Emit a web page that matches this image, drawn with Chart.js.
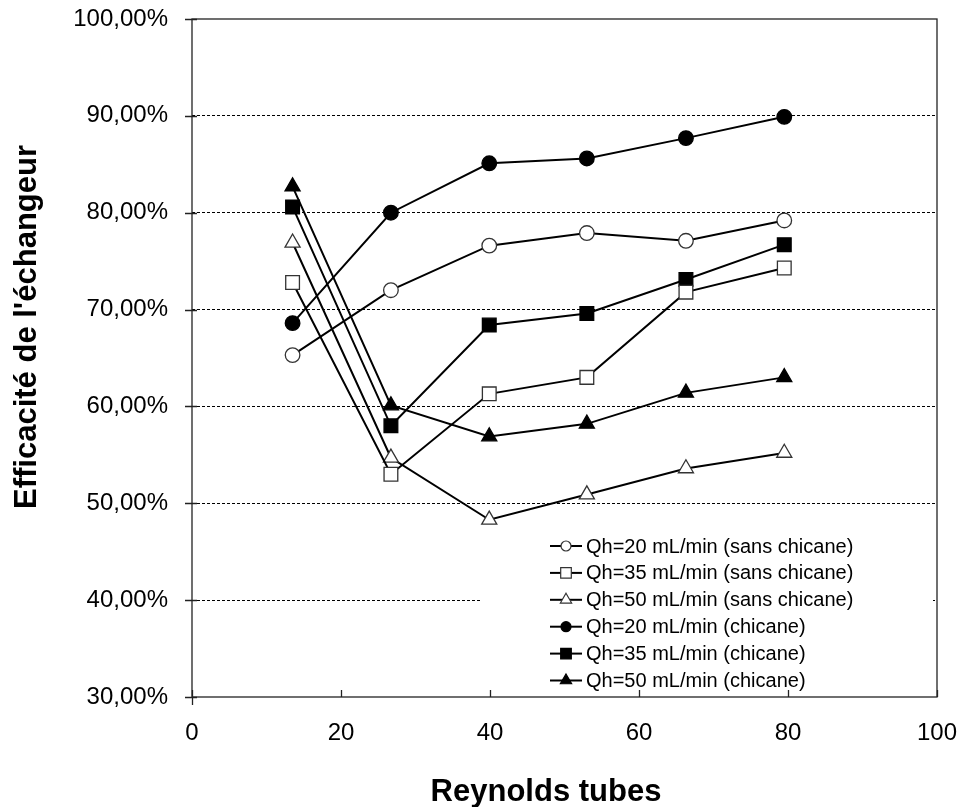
<!DOCTYPE html>
<html>
<head>
<meta charset="utf-8">
<script src="https://cdn.jsdelivr.net/npm/chart.js@4/dist/chart.umd.min.js"></script>
<style>
    html, body { margin: 0; padding: 0; background: #fff; }
    #box { width: 961px; height: 807px; }
</style>
</head>
<body>
<div id="box"><canvas id="myChart"></canvas></div>
<script>
// Reynolds (axe x) commun a toutes les series
var reynolds = [13.5, 26.7, 39.9, 53.0, 66.3, 79.5];

// efficacite (%)
var qh20Sans = [65.3, 72.0, 76.6, 77.9, 77.1, 79.2];
var qh35Sans = [72.8, 53.0, 61.3, 63.0, 71.8, 74.3];
var qh50Sans = [76.9, 54.7, 48.3, 50.9, 53.6, 55.2];
var qh20Chic = [68.6, 80.0, 85.1, 85.6, 87.7, 89.9];
var qh35Chic = [80.6, 58.0, 68.4, 69.6, 73.1, 76.7];
var qh50Chic = [82.7, 60.1, 56.9, 58.2, 61.4, 63.0];

var seriesLabels = [
    "Qh=20 mL/min (sans chicane)",
    "Qh=35 mL/min (sans chicane)",
    "Qh=50 mL/min (sans chicane)",
    "Qh=20 mL/min (chicane)",
    "Qh=35 mL/min (chicane)",
    "Qh=50 mL/min (chicane)"
];
var xTitle = "Reynolds tubes";
var yTitle = "Efficacité de l'échangeur";

var FONT = "'Liberation Sans', Arial, sans-serif";

function toPoints(ys) {
    var pts = [];
    for (var i = 0; i < ys.length; i++) {
        pts.push({x: reynolds[i], y: ys[i]});
    }
    return pts;
}

function makeSet(label, ys, style, filled) {
    var r = style == 'circle' ? 7.3 : (style == 'rect' ? 9.7 : 8.7);
    return {
        label: label,
        data: toPoints(ys),
        showLine: true,
        borderColor: '#000',
        borderWidth: 2,
        pointStyle: style,
        pointRadius: r,
        pointHoverRadius: r,
        pointBorderWidth: 1.3,
        pointBorderColor: filled ? '#000' : '#333',
        pointBackgroundColor: filled ? '#000' : '#fff'
    };
}

var datasets = [
    makeSet(seriesLabels[0], qh20Sans, 'circle', false),
    makeSet(seriesLabels[1], qh35Sans, 'rect', false),
    makeSet(seriesLabels[2], qh50Sans, 'triangle', false),
    makeSet(seriesLabels[3], qh20Chic, 'circle', true),
    makeSet(seriesLabels[4], qh35Chic, 'rect', true),
    makeSet(seriesLabels[5], qh50Chic, 'triangle', true)
];

// cadre, graduations, legende et titres des axes
var decorPlugin = {
    id: 'decor',
    beforeDatasetsDraw: function (chart) {
        var c = chart.ctx, a = chart.chartArea;
        // fond blanc de la legende (masque la grille)
        c.save();
        c.fillStyle = '#fff';
        c.fillRect(481, 530, a.right - 4 - 481, a.bottom - 530 - 1);
        c.restore();
    },
    afterDraw: function (chart) {
        var c = chart.ctx, a = chart.chartArea;
        var xs = chart.scales.x, ys = chart.scales.y;
        c.save();
        c.strokeStyle = '#222';
        c.lineWidth = 1.3;
        c.strokeRect(a.left, a.top, a.right - a.left, a.bottom - a.top);
        // graduations
        c.beginPath();
        xs.ticks.forEach(function (t) {
            var px = Math.round(xs.getPixelForValue(t.value)) + 0.5;
            c.moveTo(px, a.bottom - 7);
            c.lineTo(px, t.value == 0 ? a.bottom + 8 : a.bottom);
        });
        ys.ticks.forEach(function (t) {
            var py = Math.round(ys.getPixelForValue(t.value)) + 0.5;
            c.moveTo(a.left - 7, py);
            c.lineTo(a.left + 5, py);
        });
        c.stroke();

        // legende
        var lx = 550, ly = 546, step = 26.9;
        c.font = "20px " + FONT;
        c.textBaseline = 'middle';
        c.textAlign = 'left';
        chart.data.datasets.forEach(function (ds, i) {
            var y = ly + i * step;
            c.strokeStyle = '#000';
            c.lineWidth = 2;
            c.beginPath();
            c.moveTo(lx, y);
            c.lineTo(lx + 32, y);
            c.stroke();
            c.fillStyle = ds.pointBackgroundColor;
            c.strokeStyle = ds.pointBorderColor;
            c.lineWidth = 1.2;
            var r = ds.pointStyle == 'circle' ? 5 : (ds.pointStyle == 'rect' ? 7.5 : 6.5);
            Chart.helpers.drawPoint(c, {pointStyle: ds.pointStyle, radius: r, rotation: 0, borderWidth: 1.2}, lx + 16, y);
            c.fillStyle = '#000';
            c.fillText(ds.label, lx + 36, y + 1);
        });

        // titres des axes
        c.fillStyle = '#000';
        c.font = "bold 31px " + FONT;
        c.textAlign = 'center';
        c.textBaseline = 'alphabetic';
        c.fillText(xTitle, 546, 801);
        c.translate(36, 327);
        c.rotate(-Math.PI / 2);
        c.fillText(yTitle, 0, 0);
        c.restore();
    }
};

var ctx = document.getElementById("myChart").getContext('2d');
var myChart = new Chart(ctx, {
    type: 'scatter',
    data: {datasets: datasets},
    plugins: [decorPlugin],
    options: {
        responsive: true,
        maintainAspectRatio: false,
        animation: false,
        layout: {padding: {left: 0, right: 24, top: 19, bottom: 0}},
        plugins: {
            legend: {display: false},
            tooltip: {enabled: false}
        },
        scales: {
            x: {
                type: 'linear',
                min: 0,
                max: 100,
                ticks: {
                    stepSize: 20,
                    color: '#000',
                    padding: 22,
                    maxRotation: 0,
                    font: {family: FONT, size: 24}
                },
                grid: {display: true, drawOnChartArea: false, drawTicks: false},
                border: {display: false},
                afterFit: function (scale) {
                    scale.height = 110;
                    scale.paddingLeft = 0;
                    scale.paddingRight = 0;
                }
            },
            y: {
                min: 30,
                max: 100,
                ticks: {
                    stepSize: 10,
                    color: '#000',
                    padding: 24,
                    font: {family: FONT, size: 24},
                    callback: function (v) {
                        return v.toFixed(2).replace('.', ',') + '%';
                    }
                },
                grid: {
                    drawTicks: false,
                    lineWidth: 1,
                    color: function (c) {
                        var v = c.tick ? c.tick.value : 0;
                        return (v >= 40 && v <= 90) ? '#000' : 'rgba(0,0,0,0)';
                    }
                },
                border: {display: false, dash: [3, 2]},
                afterFit: function (scale) {
                    scale.width = 192;
                    scale.paddingTop = 0;
                    scale.paddingBottom = 0;
                }
            }
        }
    }
});
</script>
</body>
</html>
